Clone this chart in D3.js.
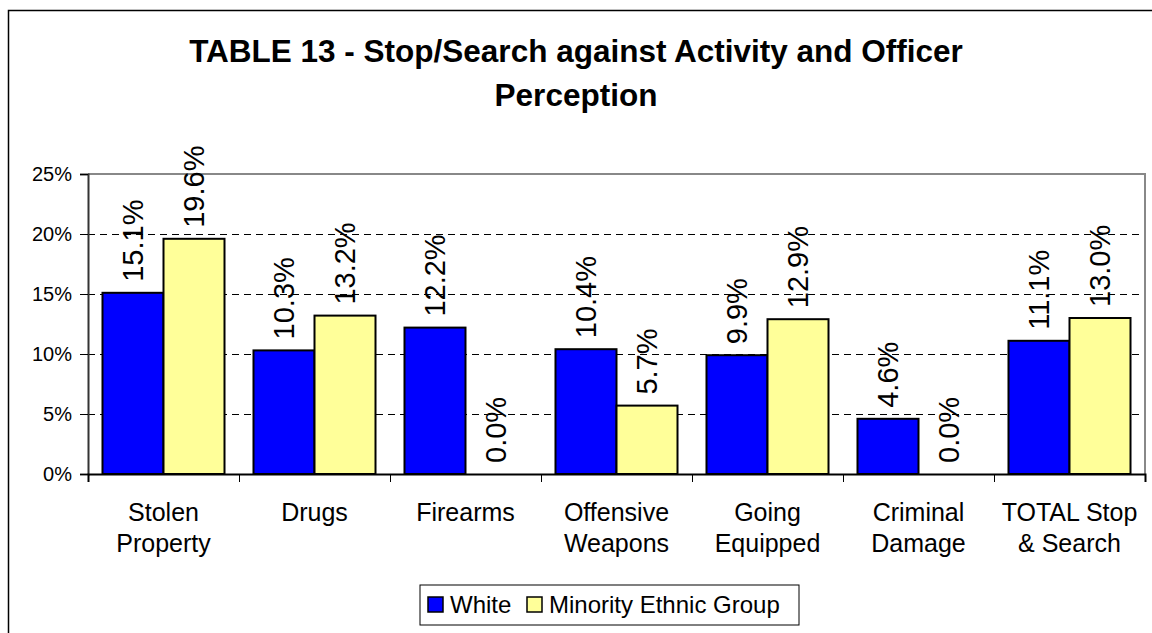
<!DOCTYPE html>
<html>
<head>
<meta charset="utf-8">
<script src="https://cdn.jsdelivr.net/npm/d3@7"></script>
<style>
  body { margin: 0; background: #fff; }
  text { font-family: Arial, "Liberation Sans", sans-serif; fill: #000; }
</style>
</head>
<body>
<script>
// chart data
var categories = [["Stolen", "Property"], ["Drugs"], ["Firearms"], ["Offensive", "Weapons"],
                  ["Going", "Equipped"], ["Criminal", "Damage"], ["TOTAL Stop", "& Search"]];
var series = ["White", "Minority Ethnic Group"];
var white = [15.1, 10.3, 12.2, 10.4, 9.9, 4.6, 11.1];
var minority = [19.6, 13.2, 0.0, 5.7, 12.9, 0.0, 13.0];
var yTicks = [0, 5, 10, 15, 20, 25];
var colors = ["#0000ff", "#ffff99"];
var titleLines = ["TABLE 13 - Stop/Search against Activity and Officer", "Perception"];

var width = 1152,
    height = 633;

var svg = d3.select("body").append("svg")
    .attr("width", width)
    .attr("height", height);

// outer chart border (right and bottom run off the picture)
svg.append("path")
    .attr("d", "M8.5," + height + "V10.5H" + width)
    .attr("fill", "none")
    .attr("stroke", "#000")
    .attr("stroke-width", 1.5);

// title
svg.append("g").selectAll("text")
    .data(titleLines)
    .enter().append("text")
    .attr("x", 576)
    .attr("y", function(d, i) { return 62 + i * 44; })
    .attr("text-anchor", "middle")
    .style("font-size", "31.5px")
    .style("font-weight", "bold")
    .text(function(d) { return d; });

var plotLeft = 88, plotRight = 1145, plotTop = 174, plotBottom = 474;

var rows = categories.map(function(c, i) {
    return {label: c, values: [white[i], minority[i]]};
});

var x0 = d3.scaleBand()
    .domain(d3.range(categories.length))
    .range([plotLeft, plotRight]);

var x1 = d3.scaleBand()
    .domain(series)
    .range([x0.bandwidth() * 0.096, x0.bandwidth() * 0.904]);

var y = d3.scaleLinear()
    .domain([0, 25])
    .range([plotBottom, plotTop]);

// gridlines
svg.append("g").selectAll("line")
    .data(yTicks.filter(function(d) { return d > 0 && d < 25; }))
    .enter().append("line")
    .attr("x1", plotLeft)
    .attr("x2", plotRight)
    .attr("y1", function(d) { return Math.round(y(d)) + 0.5; })
    .attr("y2", function(d) { return Math.round(y(d)) + 0.5; })
    .attr("stroke", "#000")
    .attr("stroke-dasharray", "7,5");

// plot area border top / right
svg.append("path")
    .attr("d", "M" + plotLeft + "," + plotTop + "H" + plotRight + "V" + plotBottom)
    .attr("fill", "none")
    .attr("stroke", "#888")
    .attr("stroke-width", 2);

// bars
var groups = svg.append("g").selectAll("g")
    .data(rows)
    .enter().append("g")
    .attr("transform", function(d, i) { return "translate(" + x0(i) + ",0)"; });

groups.selectAll("rect")
    .data(function(d) { return d.values.map(function(v, j) { return {s: series[j], v: v, j: j}; }); })
    .enter().append("rect")
    .attr("x", function(d) { return x1(d.s); })
    .attr("width", x1.bandwidth())
    .attr("y", function(d) { return y(d.v); })
    .attr("height", function(d) { return y(0) - y(d.v); })
    .attr("fill", function(d) { return colors[d.j]; })
    .attr("stroke", "#000")
    .attr("stroke-width", 2);

// value labels
groups.selectAll("text")
    .data(function(d) { return d.values.map(function(v, j) { return {s: series[j], v: v}; }); })
    .enter().append("text")
    .attr("transform", function(d) {
        return "translate(" + (x1(d.s) + x1.bandwidth() / 2) + "," + (y(d.v) - 11) + ") rotate(-90)";
    })
    .attr("dy", "0.35em")
    .style("font-size", "29px")
    .text(function(d) { return d.v.toFixed(1) + "%"; });

// y axis
var yAxis = d3.axisLeft(y)
    .tickValues(yTicks)
    .tickSize(8)
    .tickPadding(8)
    .tickFormat(function(d) { return d + "%"; });

var gy = svg.append("g")
    .attr("transform", "translate(" + plotLeft + ",0)")
    .call(yAxis);
gy.select(".domain").attr("stroke", "#333").attr("stroke-width", 2);
gy.selectAll(".tick line").attr("stroke", "#000");
gy.selectAll(".tick text")
    .style("font-size", "20px")
    .style("font-family", "Arial, 'Liberation Sans', sans-serif")
    .attr("fill", "#000");

// x axis line and ticks at category boundaries
var xAxis = d3.axisBottom(d3.scaleLinear().domain([0, categories.length]).range([plotLeft, plotRight]))
    .tickValues(d3.range(categories.length + 1))
    .tickSize(8)
    .tickFormat("");

var gx = svg.append("g")
    .attr("transform", "translate(0," + plotBottom + ")")
    .call(xAxis);
gx.select(".domain").attr("stroke", "#000").attr("stroke-width", 2);
gx.selectAll(".tick line").attr("stroke", "#000");

// category labels
svg.append("g").selectAll("text")
    .data(rows)
    .enter().append("text")
    .attr("text-anchor", "middle")
    .attr("x", function(d, i) { return x0(i) + x0.bandwidth() / 2; })
    .attr("y", 521)
    .style("font-size", "25px")
    .each(function(d) {
        var t = d3.select(this);
        d.label.forEach(function(line, k) {
            t.append("tspan")
                .attr("x", t.attr("x"))
                .attr("dy", k == 0 ? 0 : 31)
                .text(line);
        });
    });

// legend
var legend = svg.append("g").attr("transform", "translate(420,585)");
legend.append("rect")
    .attr("width", 379)
    .attr("height", 40)
    .attr("fill", "#fff")
    .attr("stroke", "#000");

var legendX = [8, 107];
var items = legend.selectAll("g.item")
    .data(series)
    .enter().append("g")
    .attr("class", "item")
    .attr("transform", function(d, i) { return "translate(" + legendX[i] + ",12)"; });

items.append("rect")
    .attr("width", 15)
    .attr("height", 15)
    .attr("fill", function(d, i) { return colors[i]; })
    .attr("stroke", "#000")
    .attr("stroke-width", 1.5);

items.append("text")
    .attr("x", 22)
    .attr("y", 16)
    .style("font-size", "24px")
    .text(function(d) { return d; });
</script>
</body>
</html>
